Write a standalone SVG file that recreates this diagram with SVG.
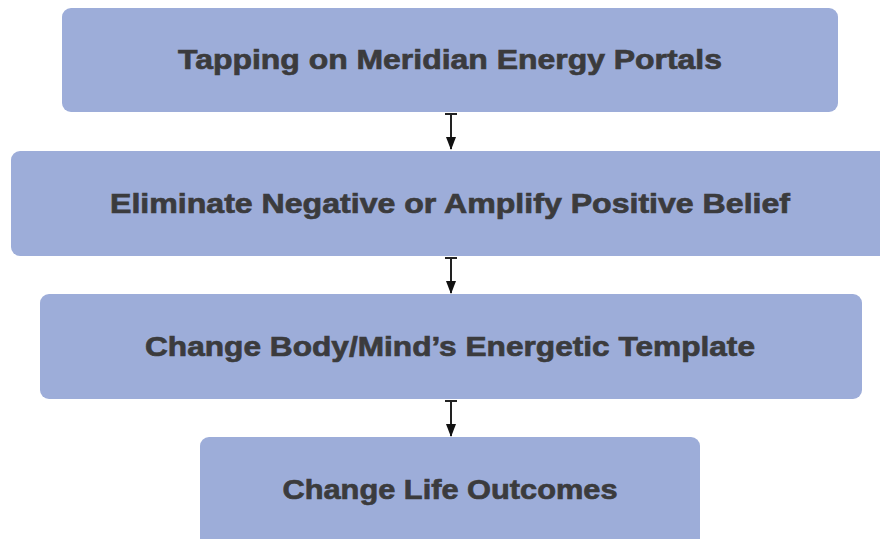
<svg xmlns="http://www.w3.org/2000/svg" width="880" height="539" viewBox="0 0 880 539">
<defs>
<style>
.box{fill:#9dadd9;}
.lbl{font-family:"Liberation Sans",Arial,sans-serif;font-weight:bold;font-size:28px;fill:#3b3b3d;stroke:#3b3b3d;stroke-width:0.7;text-anchor:middle;}
.conn{stroke:#222;stroke-width:2;fill:none;}
</style>
<marker id="ah" viewBox="0 0 13 10" refX="12" refY="5" markerWidth="13" markerHeight="10" orient="auto" markerUnits="userSpaceOnUse">
<path d="M0,0 L13,5 L0,10 z" fill="#111"/>
</marker>
</defs>
<rect width="880" height="539" fill="#fff"/>
<g id="n1"><rect class="box" x="62" y="8" width="776" height="104" rx="9"/><text class="lbl" x="450" y="69" textLength="544" lengthAdjust="spacingAndGlyphs">Tapping on Meridian Energy Portals</text></g>
<g id="n2"><rect class="box" x="11" y="151" width="880" height="105" rx="9"/><text class="lbl" x="450" y="213" textLength="680" lengthAdjust="spacingAndGlyphs">Eliminate Negative or Amplify Positive Belief</text></g>
<g id="n3"><rect class="box" x="40" y="294" width="822" height="105" rx="9"/><text class="lbl" x="450" y="356" textLength="610" lengthAdjust="spacingAndGlyphs">Change Body/Mind’s Energetic Template</text></g>
<g id="n4"><rect class="box" x="200" y="437" width="500" height="112" rx="9"/><text class="lbl" x="450" y="499" textLength="335" lengthAdjust="spacingAndGlyphs">Change Life Outcomes</text></g>
<g id="connectors">
<path class="conn" d="M445,114 H457 M451,114 V149" marker-end="url(#ah)"/>
<path class="conn" d="M445,258 H457 M451,258 V293" marker-end="url(#ah)"/>
<path class="conn" d="M445,401 H457 M451,401 V436" marker-end="url(#ah)"/>
</g>
</svg>
